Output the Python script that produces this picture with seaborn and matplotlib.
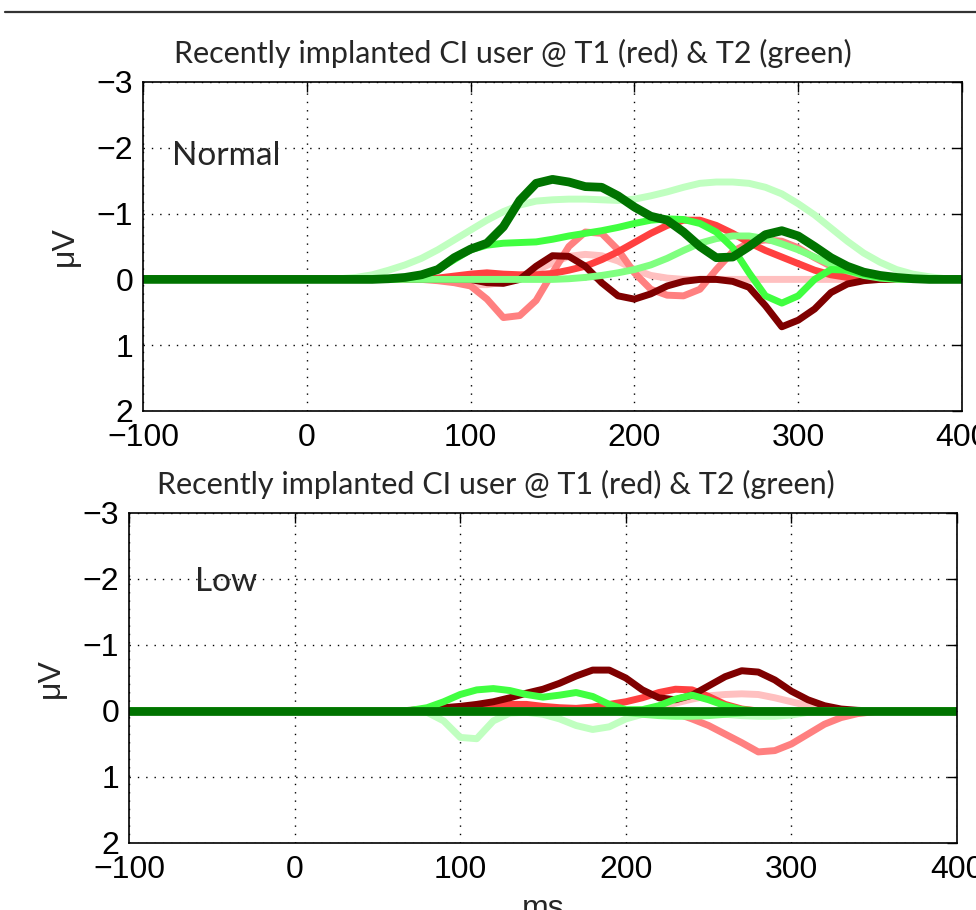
import matplotlib
matplotlib.use("Agg")
import matplotlib.pyplot as plt
import seaborn as sns
from matplotlib.lines import Line2D

# time axis (ms), shared by every trace
ms = [-100, 0, 10, 20, 30, 40, 50, 60, 70, 80, 90,
      100, 110, 120, 130, 140, 150, 160, 170, 180, 190,
      200, 210, 220, 230, 240, 250, 260, 270, 280, 290,
      300, 310, 320, 330, 340, 350, 360, 370, 380, 390, 400]

# ---- "Normal" panel (uV) ----
r_light_top = [0, 0, 0, 0, 0, 0, 0, 0, 0, 0, 0.03,
               0.08, 0.08, 0.04, -0.05, -0.14, -0.25, -0.35, -0.38, -0.36, -0.28,
               -0.15, -0.06, -0.02, 0, 0, 0, 0, 0, 0, 0,
               0, 0, 0, 0, 0, 0, 0, 0, 0, 0, 0]
r_mid_top = [0, 0, 0, 0, 0, 0, 0, 0, 0, 0.02, 0.05,
             0.1, 0.3, 0.58, 0.55, 0.32, -0.1, -0.5, -0.72, -0.7, -0.45,
             -0.1, 0.15, 0.24, 0.25, 0.15, -0.15, -0.42, -0.56, -0.6, -0.58,
             -0.48, -0.33, -0.2, -0.1, -0.04, -0.01, 0, 0, 0, 0, 0]
r_bright_top = [0, 0, 0, 0, 0, 0, 0, 0, 0, -0.02, -0.05,
                -0.08, -0.1, -0.08, -0.07, -0.07, -0.09, -0.14, -0.2, -0.3, -0.42,
                -0.56, -0.7, -0.82, -0.9, -0.9, -0.82, -0.7, -0.56, -0.44, -0.34,
                -0.24, -0.14, -0.07, -0.03, -0.01, 0, 0, 0, 0, 0, 0]
r_dark_top = [0, 0, 0, 0, 0, 0, 0, 0, 0, 0, 0,
              0, 0.05, 0.06, 0.0, -0.2, -0.36, -0.35, -0.2, 0.05, 0.25,
              0.3, 0.22, 0.1, 0.03, 0.0, 0.0, 0.03, 0.12, 0.4, 0.72,
              0.62, 0.45, 0.2, 0.07, 0.02, 0, 0, 0, 0, 0, 0]
g_light_top = [0, 0, 0, -0.01, -0.03, -0.07, -0.14, -0.22, -0.32, -0.45, -0.6,
               -0.75, -0.9, -1.03, -1.13, -1.19, -1.21, -1.22, -1.22, -1.21, -1.2,
               -1.22, -1.27, -1.33, -1.4, -1.46, -1.48, -1.48, -1.46, -1.4, -1.3,
               -1.15, -0.98, -0.78, -0.58, -0.4, -0.26, -0.15, -0.08, -0.04, -0.01, 0]
g_mid_top = [0, 0, 0, 0, 0, 0, 0, 0, 0, 0, 0,
             0, 0, 0, 0, 0, 0, -0.01, -0.03, -0.06, -0.1,
             -0.15, -0.22, -0.32, -0.44, -0.55, -0.62, -0.66, -0.66, -0.62, -0.54,
             -0.45, -0.34, -0.23, -0.13, -0.06, -0.02, 0, 0, 0, 0, 0]
g_bright_top = [0, 0, 0, 0, 0, 0, 0, -0.02, -0.06, -0.15, -0.3,
                -0.45, -0.52, -0.55, -0.56, -0.57, -0.61, -0.66, -0.7, -0.74, -0.79,
                -0.85, -0.9, -0.92, -0.91, -0.85, -0.72, -0.48, -0.1, 0.25, 0.36,
                0.25, 0.0, -0.15, -0.14, -0.08, -0.03, -0.01, 0, 0, 0, 0]
g_dark_top = [0, 0, 0, 0, 0, 0, -0.01, -0.03, -0.07, -0.15, -0.33,
              -0.46, -0.55, -0.8, -1.2, -1.46, -1.52, -1.48, -1.41, -1.4, -1.27,
              -1.1, -0.96, -0.9, -0.72, -0.5, -0.33, -0.34, -0.5, -0.68, -0.74,
              -0.66, -0.5, -0.33, -0.2, -0.11, -0.06, -0.03, -0.01, 0, 0, 0]

# ---- "Low" panel (uV) ----
r_light_bot = [0, 0, 0, 0, 0, 0, 0, 0, 0, 0, 0,
               0, 0, 0, 0, 0, 0, 0, 0, 0, 0,
               0, -0.02, -0.06, -0.12, -0.18, -0.23, -0.25, -0.26, -0.25, -0.2,
               -0.14, -0.08, -0.03, -0.01, 0, 0, 0, 0, 0, 0, 0]
r_mid_bot = [0, 0, 0, 0, 0, 0, 0, 0, 0, 0, 0,
             0, 0, 0, 0, 0, 0, 0, 0, 0, 0,
             0, 0, 0, 0.03, 0.12, 0.22, 0.35, 0.48, 0.62, 0.6,
             0.5, 0.35, 0.2, 0.1, 0.04, 0.01, 0, 0, 0, 0, 0]
r_bright_bot = [0, 0, 0, 0, 0, 0, 0, 0, 0, 0, 0,
                0, -0.02, -0.06, -0.1, -0.1, -0.07, -0.05, -0.04, -0.06, -0.1,
                -0.14, -0.2, -0.28, -0.33, -0.32, -0.22, -0.1, -0.03, 0, 0,
                0, 0, 0, 0, 0, 0, 0, 0, 0, 0, 0]
r_dark_bot = [0, 0, 0, 0, 0, 0, 0, 0, -0.01, -0.03, -0.05,
              -0.07, -0.1, -0.14, -0.2, -0.27, -0.33, -0.42, -0.53, -0.62, -0.62,
              -0.5, -0.32, -0.2, -0.17, -0.24, -0.38, -0.52, -0.61, -0.59, -0.47,
              -0.3, -0.17, -0.08, -0.03, -0.01, 0, 0, 0, 0, 0, 0]
g_light_bot = [0, 0, 0, 0, 0, 0, 0, 0, 0, 0.02, 0.15,
               0.4, 0.42, 0.15, 0.03, 0.02, 0.05, 0.12, 0.22, 0.28, 0.24,
               0.12, 0.05, 0.02, 0.02, 0.02, 0.03, 0.05, 0.07, 0.08, 0.08,
               0.06, 0.02, 0, 0, 0, 0, 0, 0, 0, 0, 0]
g_mid_bot = [0, 0, 0, 0, 0, 0, 0, 0, 0, 0, 0,
             0, 0, 0, 0, 0, 0, 0, 0, 0, 0,
             0.02, 0.05, 0.07, 0.08, 0.08, 0.07, 0.05, 0.03, 0.01, 0,
             0, 0, 0, 0, 0, 0, 0, 0, 0, 0, 0]
g_bright_bot = [0, 0, 0, 0, 0, 0, 0, 0, -0.01, -0.05, -0.14,
                -0.25, -0.32, -0.34, -0.31, -0.25, -0.21, -0.24, -0.28, -0.22, -0.1,
                -0.02, -0.02, -0.08, -0.18, -0.24, -0.17, -0.08, -0.02, 0, 0,
                0, 0, 0, 0, 0, 0, 0, 0, 0, 0, 0]
g_dark_bot = [0] * len(ms)

xticks = [-100, 0, 100, 200, 300, 400]
yticks = [-3, -2, -1, 0, 1, 2]
title = "Recently implanted CI user @ T1 (red) & T2 (green)"

red_colors = ["#ffc0c0", "#ff8080", "#ff4040", "#7f0000"]
green_colors = ["#c0ffc0", "#80ff80", "#40ff40", "#007300"]

sns.set_style("white")
plt.rcParams["font.family"] = ["Liberation Sans", "DejaVu Sans"]

fig = plt.figure(figsize=(9.76, 9.10), dpi=100)
ax1 = fig.add_axes([143 / 976, 1 - 411 / 910, 819 / 976, 329 / 910])
ax2 = fig.add_axes([129 / 976, 1 - 843 / 910, 828 / 976, 330 / 910])

panels = [
    (ax1, [r_light_top, r_mid_top, r_bright_top, r_dark_top],
     [g_light_top, g_mid_top, g_bright_top, g_dark_top], "Normal", (-82, -1.88), 0.452),
    (ax2, [r_light_bot, r_mid_bot, r_bright_bot, r_dark_bot],
     [g_light_bot, g_mid_bot, g_bright_bot, g_dark_bot], "Low", (-60, -1.95), 0.443),
]

for ax, reds, greens, label, pos, tx in panels:
    for vals, c in zip(reds, red_colors):
        sns.lineplot(x=ms, y=vals, ax=ax, color=c, linewidth=5.0, sort=False,
                     solid_joinstyle="round", solid_capstyle="round")
    for i, (vals, c) in enumerate(zip(greens, green_colors)):
        sns.lineplot(x=ms, y=vals, ax=ax, color=c, linewidth=6.3 if i == 3 else 5.0,
                     sort=False, solid_joinstyle="round", solid_capstyle="round")
    ax.set_xlim(-100, 400)
    ax.set_ylim(2, -3)
    ax.set_xticks(xticks)
    ax.set_yticks(yticks)
    ax.grid(True, color="black", linestyle=(0, (1, 5)), linewidth=1.0)
    ax.tick_params(direction="in", top=True, right=True, length=7, width=1.0,
                   labelsize=23, colors="black")
    ax.tick_params(axis="x", pad=9)
    ax.tick_params(axis="y", pad=7)
    for s in ax.spines.values():
        s.set_color("black")
        s.set_linewidth(1.2)
    ax.set_ylabel("μV", fontsize=23, labelpad=12)
    ax.set_xlabel("")
    ax.set_title(title, fontsize=22, family="Lato", x=tx, pad=14)
    ax.text(pos[0], pos[1], label, fontsize=24, family="Lato", va="center", ha="left")

ax2.set_xlabel("ms", fontsize=23, labelpad=6)

fig.add_artist(Line2D([0.005, 1.0], [1 - 12 / 910] * 2, color="#333333",
                      linewidth=1.6, transform=fig.transFigure))

fig.savefig("out.png", dpi=100)
